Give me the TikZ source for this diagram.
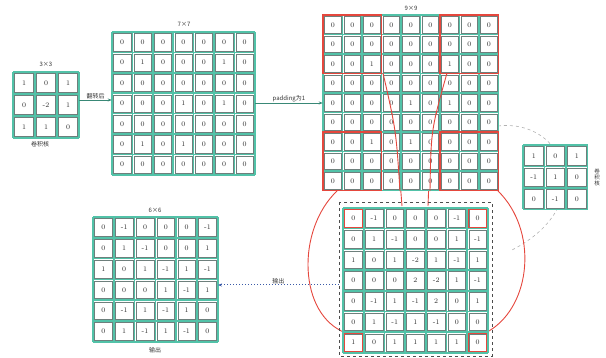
\documentclass[tikz,border=0pt]{standalone}
\usepackage{fontspec}
\newfontfamily\cjk{Noto Sans CJK SC}
\usetikzlibrary{arrows.meta}
\definecolor{gridteal}{HTML}{52C2A8}
\definecolor{cellgray}{HTML}{6E7F7C}
\definecolor{redline}{HTML}{E5473D}
\definecolor{numcol}{HTML}{2E2E2E}
\definecolor{dotblue}{HTML}{3B5BA8}
\tikzset{
  cellbox/.style={draw=cellgray, line width=0.5pt, fill=white, inner sep=0pt,
    font=\fontsize{7}{8}\selectfont, text=numcol},
  tealline/.style={gridteal, line width=1.6pt},
  redbox/.style={redline, line width=1.1pt},
  lbl/.style={font=\cjk\fontsize{6}{7}\selectfont, text=black!80, inner sep=1pt},
  area/.style={inner sep=0pt, draw=none},
  redcurve/.style={redline, line width=0.9pt},
}
% #1 name, #2 x0, #3 y0, #4 cell, #5 ncols, #6 nrows
\newcommand\mylines[6]{%
  \foreach \k in {0,...,#5} {\draw[tealline] ({#2+\k*#4},#3) -- ({#2+\k*#4},{#3+#6*#4});}
  \foreach \k in {0,...,#6} {\draw[tealline] (#2,{#3+\k*#4}) -- ({#2+#5*#4},{#3+\k*#4});}
  \node[area, minimum width=#5*#4, minimum height=#6*#4] (#1) at ({#2+#5*#4/2},{#3+#6*#4/2}) {};
}
% #1 name, #2 x0, #3 y0, #4 cell, #5 rows
\newcommand\mycells[5]{%
  \foreach \row [count=\i from 0] in {#5} {
    \foreach \v [count=\j from 0] in \row {
      \node[cellbox, minimum size=#4-3.2] (#1-\i-\j) at ({#2+(\j+0.5)*#4},{#3+(\i+0.5)*#4}) {\v};
    }
  }
}
\begin{document}
\begin{tikzpicture}[x=1pt,y=-1pt]
\useasboundingbox (0,0) rectangle (606,358);

% gray dashed arc behind right kernel
\draw[gray!60, dashed, line width=0.6pt] (498,126) .. controls (565,118) and (600,205) .. (512,250);

% red curves (behind the grids)
\draw[redcurve] (383,73) .. controls (396,130) .. (402,206);
\draw[redcurve] (447,73) .. controls (431,130) .. (428,206);
\draw[redcurve] (337,191) .. controls (296,230) and (298,315) .. (346,333);
\draw[redcurve] (498,191) .. controls (538,230) and (532,305) .. (489,331);

% left kernel
\mylines{KL}{13}{72}{22}{3}{3}
\mycells{kl}{13}{72}{22}{{1,0,1},{0,-2,1},{1,1,0}}
\node[lbl] (klt) at (46,64) {3×3};
\node[lbl] (klb) at (40,144) {卷积核};

% input 7x7
\mylines{IN}{112}{32}{20.4}{7}{7}
\mycells{in}{112}{32}{20.4}{{0,0,0,0,0,0,0},{0,1,0,0,0,1,0},{0,0,0,0,0,0,0},{0,0,0,1,0,1,0},{0,0,0,0,0,0,0},{0,1,0,1,0,0,0},{0,0,0,0,0,0,0}}
\node[lbl] (int) at (184,24) {7×7};

% padded 9x9
\mylines{PD}{323}{15}{19.5}{9}{9}
\mycells{pd}{323}{15}{19.5}{{0,0,0,0,0,0,0,0,0},{0,0,0,0,0,0,0,0,0},{0,0,1,0,0,0,1,0,0},{0,0,0,0,0,0,0,0,0},{0,0,0,0,1,0,1,0,0},{0,0,0,0,0,0,0,0,0},{0,0,1,0,1,0,0,0,0},{0,0,0,0,0,0,0,0,0},{0,0,0,0,0,0,0,0,0}}
\draw[redbox] (323,15) rectangle (381.5,73.5);
\draw[redbox] (440,15) rectangle (498.5,73.5);
\draw[redbox] (323,132) rectangle (381.5,190.5);
\draw[redbox] (440,132) rectangle (498.5,190.5);
\node[lbl] (pdt) at (411,8) {9×9};
% funnel lines over the padded grid
\draw[redcurve] (383,73) .. controls (396,130) .. (400,191);
\draw[redcurve] (447,73) .. controls (431,130) .. (430,191);

% right kernel
\mylines{KR}{523}{145}{21.5}{3}{3}
\mycells{kr}{523}{145}{21.5}{{1,0,1},{-1,1,0},{0,-1,0}}
\node[lbl, align=center, font=\cjk\fontsize{5.5}{6}\selectfont] (krl) at (597,177) {卷\\积\\核};

% inset 7x7
\draw[black!70, dashed, line width=0.6pt] (339,202) rectangle (492,356);
\mylines{IS}{343}{208}{20.7}{7}{7}
\mycells{is}{343}{208}{20.7}{{0,-1,0,0,0,-1,0},{0,1,-1,0,0,1,-1},{1,0,1,-2,1,-1,1},{0,0,0,2,-2,1,-1},{0,-1,1,-1,2,0,1},{0,1,-1,1,-1,0,0},{1,0,1,1,1,1,0}}
\draw[redbox] (is-0-0.north west) rectangle (is-0-0.south east);
\draw[redbox] (is-0-6.north west) rectangle (is-0-6.south east);
\draw[redbox] (is-6-0.north west) rectangle (is-6-0.south east);
\draw[redbox] (is-6-6.north west) rectangle (is-6-6.south east);

% output 6x6
\mylines{OUT}{93}{217}{20.8}{6}{6}
\mycells{ou}{93}{217}{20.8}{{0,-1,0,0,0,-1},{0,1,-1,0,0,1},{1,0,1,-1,1,-1},{0,0,0,1,-1,1},{0,-1,1,-1,1,0},{0,1,-1,1,-1,0}}
\node[lbl] (out) at (155,210) {6×6};
\node[lbl] (oub) at (155,350) {输出};

% connectors
\draw[gridteal!70!black, line width=0.8pt, -{Stealth[length=4pt]}] (KL.east |- 0,100) -- (IN.west |- 0,100)
  node[midway, above, lbl] {翻转后};
\draw[gridteal!70!black, line width=0.8pt, -{Stealth[length=4pt]}] (IN.east |- 0,103) -- (PD.west |- 0,103)
  node[midway, above, lbl] {padding为1};
\draw[dotblue, dotted, line width=1pt, -{Stealth[length=4pt]}] (IS.west |- 0,285) ++(-4,0) -- (OUT.east |- 0,285)
  node[midway, above, lbl] {输出};
\end{tikzpicture}
\end{document}
